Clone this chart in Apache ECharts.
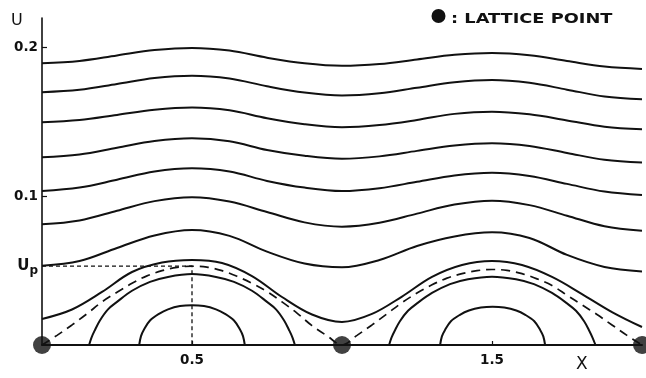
<!DOCTYPE html>
<html>
<head>
<meta charset="utf-8">
<title>U(X) contours over lattice</title>
<script src="https://cdn.jsdelivr.net/npm/echarts@6/dist/echarts.min.js"></script>
<style>
  html, body { margin: 0; padding: 0; background: #fff; }
  #chart { width: 646px; height: 378px; }
</style>
</head>
<body>
<div id="chart"></div>
<script>
// Axis ticks and the marked level U_p
const X_TICKS = [0.5, 1.5];
const Y_TICKS = [0.1, 0.2];
const UP = 0.053;

// Lattice points on the X axis
const LATTICE_X = [0, 1, 2];

// Sample positions shared by the open contour lines
const X17 = [0, 0.125, 0.25, 0.375, 0.5, 0.625, 0.75, 0.875, 1, 1.125, 1.25, 1.375, 1.5, 1.625, 1.75, 1.875, 2];

// Open contour lines, top to bottom
const u1 = [0.1896, 0.1911, 0.1948, 0.1984, 0.1999, 0.1981, 0.1933, 0.1895, 0.1878, 0.1890, 0.1921, 0.1952, 0.1965, 0.1950, 0.1911, 0.1873, 0.1857];
const u2 = [0.1701, 0.1717, 0.1756, 0.1796, 0.1812, 0.1793, 0.1741, 0.1699, 0.1679, 0.1694, 0.1731, 0.1768, 0.1783, 0.1764, 0.1718, 0.1672, 0.1653];
const u3 = [0.1499, 0.1513, 0.1548, 0.1583, 0.1598, 0.1579, 0.1526, 0.1485, 0.1465, 0.1480, 0.1514, 0.1555, 0.1570, 0.1552, 0.1511, 0.1469, 0.1452];
const u4 = [0.1263, 0.1282, 0.1327, 0.1372, 0.1391, 0.1371, 0.1312, 0.1273, 0.1253, 0.1269, 0.1306, 0.1342, 0.1357, 0.1339, 0.1292, 0.1246, 0.1227];
const u5 = [0.1036, 0.1059, 0.1112, 0.1167, 0.1189, 0.1167, 0.1104, 0.1059, 0.1036, 0.1055, 0.1098, 0.1141, 0.1159, 0.1137, 0.1084, 0.1032, 0.1009];
const u6 = [0.0812, 0.0838, 0.0903, 0.0968, 0.0994, 0.0965, 0.0895, 0.0825, 0.0796, 0.0822, 0.0884, 0.0945, 0.0971, 0.0941, 0.0870, 0.0799, 0.0769];
const u7 = [0.0534, 0.0565, 0.0653, 0.0737, 0.0774, 0.0734, 0.0628, 0.0548, 0.0523, 0.0572, 0.0666, 0.0730, 0.0758, 0.0720, 0.0606, 0.0525, 0.0495];

// Lowest open line, finer sampling
const X21 = [0, 0.1, 0.2, 0.3, 0.4, 0.5, 0.6, 0.7, 0.8, 0.9, 1, 1.1, 1.2, 1.3, 1.4, 1.5, 1.6, 1.7, 1.8, 1.9, 2];
const u8 = [0.0175, 0.0239, 0.0357, 0.0491, 0.0555, 0.0572, 0.0552, 0.0464, 0.0323, 0.0205, 0.0155, 0.0209, 0.0326, 0.0458, 0.0538, 0.0565, 0.0538, 0.0458, 0.0343, 0.0222, 0.0121];

// Separatrix (dashed) through the lattice points
const XD = [0, 0.05, 0.1, 0.15, 0.2, 0.25, 0.3, 0.35, 0.4, 0.45, 0.5, 0.55, 0.6, 0.65, 0.7, 0.75, 0.8, 0.85, 0.9, 0.95, 1,
            1.05, 1.1, 1.15, 1.2, 1.25, 1.3, 1.35, 1.4, 1.45, 1.5, 1.55, 1.6, 1.65, 1.7, 1.75, 1.8, 1.85, 1.9, 1.95, 2];
const uD = [0, 0.0065, 0.0135, 0.021, 0.029, 0.0355, 0.0415, 0.0465, 0.0500, 0.0522, 0.0530, 0.0524, 0.0500, 0.0462, 0.0415, 0.0359, 0.029, 0.0215, 0.013, 0.0062, 0,
            0.0065, 0.0135, 0.021, 0.0285, 0.035, 0.0405, 0.045, 0.048, 0.050, 0.0508, 0.0502, 0.048, 0.0445, 0.040, 0.0335, 0.027, 0.0205, 0.0135, 0.0065, 0];

// Closed (trapped) contours above each half cell
const XA1 = [0.157, 0.165, 0.175, 0.193, 0.22, 0.25, 0.30, 0.36, 0.42, 0.5, 0.58, 0.64, 0.70, 0.75, 0.78, 0.807, 0.825, 0.835, 0.843];
const uA1 = [0, 0.005, 0.0095, 0.0165, 0.024, 0.029, 0.0365, 0.0425, 0.0458, 0.0477, 0.0458, 0.0425, 0.0365, 0.029, 0.024, 0.0165, 0.0095, 0.005, 0];
const XA2 = [1.157, 1.165, 1.175, 1.193, 1.22, 1.25, 1.30, 1.36, 1.42, 1.5, 1.58, 1.64, 1.70, 1.75, 1.78, 1.807, 1.825, 1.835, 1.845];
const uA2 = [0, 0.005, 0.0093, 0.016, 0.023, 0.028, 0.035, 0.041, 0.0443, 0.046, 0.0443, 0.041, 0.035, 0.028, 0.023, 0.016, 0.0093, 0.005, 0];
const XB1 = [0.324, 0.33, 0.34, 0.36, 0.39, 0.42, 0.46, 0.5, 0.54, 0.58, 0.61, 0.64, 0.66, 0.67, 0.676];
const uB1 = [0, 0.006, 0.0105, 0.0165, 0.021, 0.024, 0.0262, 0.0268, 0.0262, 0.024, 0.021, 0.0165, 0.0105, 0.006, 0];
const XB2 = [1.327, 1.333, 1.343, 1.363, 1.393, 1.423, 1.463, 1.502, 1.541, 1.581, 1.611, 1.641, 1.661, 1.671, 1.677];
const uB2 = [0, 0.0058, 0.010, 0.016, 0.0203, 0.0232, 0.0252, 0.0258, 0.0252, 0.0232, 0.0203, 0.016, 0.010, 0.0058, 0];

const pairs = (xs, ys) => xs.map((x, i) => [x, ys[i]]);
const INK = '#111';
const FONT = '"DejaVu Sans", sans-serif';

function curve(xs, ys, extra) {
  return Object.assign({
    type: 'line',
    data: pairs(xs, ys),
    smooth: 0.35,
    showSymbol: false,
    symbol: 'none',
    silent: true,
    clip: false,
    lineStyle: { color: INK, width: 2 }
  }, extra || {});
}

const chart = echarts.init(document.getElementById('chart'), null, { renderer: 'canvas' });

chart.setOption({
  animation: false,
  backgroundColor: '#fff',
  grid: { left: 42, right: 4, top: 18, bottom: 33 },
  xAxis: {
    type: 'value', min: 0, max: 2,
    axisLine: { show: true, lineStyle: { color: INK, width: 2 } },
    axisTick: { show: true, inside: true, length: 4, customValues: X_TICKS, lineStyle: { color: INK, width: 1.2 } },
    axisLabel: {
      customValues: X_TICKS, margin: 8,
      formatter: v => v.toFixed(1),
      color: INK, fontFamily: FONT, fontWeight: 'bold', fontSize: 13.5
    },
    splitLine: { show: false }
  },
  yAxis: {
    type: 'value', min: 0, max: 0.22,
    axisLine: { show: true, lineStyle: { color: INK, width: 1.6 } },
    axisTick: { show: true, inside: true, length: 5, customValues: Y_TICKS, lineStyle: { color: INK, width: 1.2 } },
    axisLabel: {
      customValues: [UP].concat(Y_TICKS), margin: 4,
      formatter: v => (Math.abs(v - UP) < 1e-9 ? '{u|U}{p|p}' : v.toFixed(1)),
      color: INK, fontFamily: FONT, fontWeight: 'bold', fontSize: 13.5,
      rich: {
        u: { fontFamily: FONT, fontSize: 15, color: INK, verticalAlign: 'middle' },
        p: { fontFamily: FONT, fontSize: 12, color: INK, fontWeight: 'bold', padding: [10, 0, 0, 0] }
      }
    },
    splitLine: { show: false }
  },
  series: [
    curve(X17, u1), curve(X17, u2), curve(X17, u3), curve(X17, u4),
    curve(X17, u5), curve(X17, u6), curve(X17, u7), curve(X21, u8),
    curve(XA1, uA1), curve(XA2, uA2), curve(XB1, uB1), curve(XB2, uB2),
    curve(XD, uD, { lineStyle: { color: INK, width: 1.7, type: [9, 6] } }),
    // guide lines marking U_p at X = 0.5
    curve([0, 0.5, 0.5], [UP, UP, 0], { smooth: false, lineStyle: { color: INK, width: 1.3, type: [4, 3] } }),
    {
      type: 'scatter', name: 'LATTICE POINT',
      data: LATTICE_X.map(x => [x, 0]),
      symbol: 'circle', symbolSize: 18, clip: false, silent: true,
      itemStyle: { color: INK }, z: 5
    }
  ],
  graphic: [
    { type: 'text', left: 11, top: 13, style: { text: 'U', fontFamily: FONT, fontSize: 16, fill: INK } },
    { type: 'text', left: 576, top: 356, style: { text: 'X', fontFamily: FONT, fontSize: 17, fill: INK } },
    { type: 'circle', shape: { cx: 438.5, cy: 16, r: 7 }, style: { fill: INK } },
    {
      type: 'text', x: 451, y: 12, scaleX: 1.27,
      style: { text: ': LATTICE POINT', fontFamily: FONT, fontWeight: 'bold', fontSize: 14, fill: INK }
    }
  ]
});
</script>
</body>
</html>
